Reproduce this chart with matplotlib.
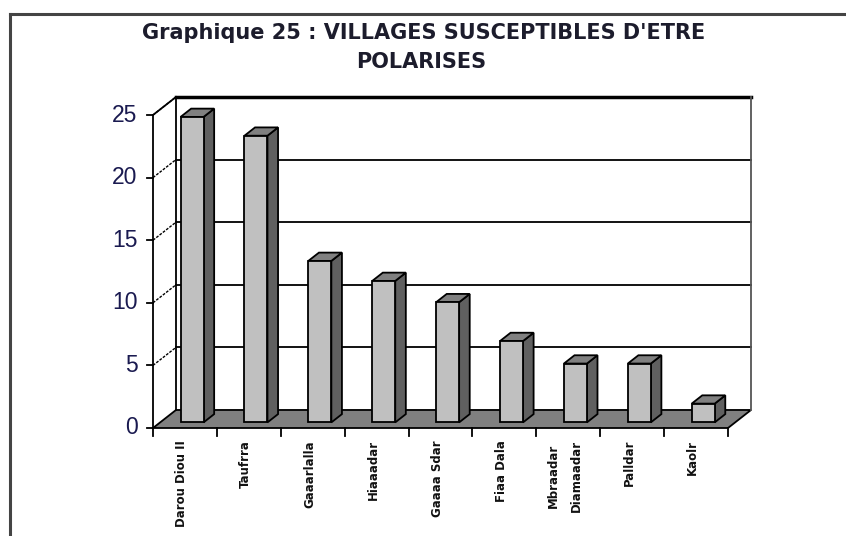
import matplotlib
matplotlib.use("Agg")
import matplotlib.pyplot as plt
from matplotlib.patches import Polygon
from matplotlib.lines import Line2D

# ---- data ----
villages = ["Darou Diou II", "Taufrra", "Gaaarlalla", "Hiaaadar", "Gaaaa Sdar",
            "Fiaa Dala", "Mbraadar\nDiamaadar", "Palldar", "Kaolr"]
values = [24.4, 22.9, 12.9, 11.3, 9.6, 6.5, 4.7, 4.7, 1.5]
yticks = [0, 5, 10, 15, 20, 25]
title_line1 = "Graphique 25 : VILLAGES SUSCEPTIBLES D'ETRE"
title_line2 = "POLARISES"

W, H, DPI = 846, 536, 100
fig = plt.figure(figsize=(W / DPI, H / DPI), dpi=DPI)
fig.patch.set_facecolor("white")

# axes placed in pixel coordinates
x0p, x1p, ytop, ybot = 153, 751, 98, 428
ax = fig.add_axes([x0p / W, 1 - ybot / H, (x1p - x0p) / W, (ybot - ytop) / H])

n = len(values)
DX, DY = 0.36, 1.44          # depth offset (data units)
ymax = 25
ax.set_xlim(-0.5, -0.5 + (x1p - x0p) / 63.89)
ax.set_ylim(0, (ybot - ytop) / 12.52)
ax.axis("off")

lw = 1.3
# floor
floor = Polygon([(-0.5, 0), (n - 0.5, 0), (n - 0.5 + DX, DY), (-0.5 + DX, DY)],
                closed=True, facecolor="#808080", edgecolor="black", lw=lw, clip_on=False, zorder=1)
ax.add_patch(floor)

# back wall grid lines
for v in yticks[1:]:
    ax.add_line(Line2D([-0.5 + DX, n - 0.5 + DX], [v + DY, v + DY], color="black", lw=1.3,
                       clip_on=False, zorder=1))
    ax.add_line(Line2D([-0.5, -0.5 + DX], [v, v + DY], color="black", lw=1.0, ls=(0, (2, 1)),
                       clip_on=False, zorder=1))
# top of back wall thick
ax.add_line(Line2D([-0.5 + DX, n - 0.5 + DX], [ymax + DY, ymax + DY], color="black", lw=2.5,
                   clip_on=False, zorder=2))
# wall edges
ax.add_line(Line2D([-0.5 + DX, -0.5 + DX], [DY, ymax + DY], color="black", lw=1.3, clip_on=False, zorder=2))
ax.add_line(Line2D([n - 0.5 + DX, n - 0.5 + DX], [DY, ymax + DY], color="#555555", lw=1.3, clip_on=False, zorder=2))
ax.add_line(Line2D([-0.5, -0.5], [0, ymax], color="black", lw=1.3, clip_on=False, zorder=2))
ax.add_line(Line2D([-0.5, -0.5 + DX], [ymax, ymax + DY], color="black", lw=1.3, clip_on=False, zorder=2))

# y ticks and labels
for v in yticks:
    ax.add_line(Line2D([-0.5 - 0.09, -0.5], [v, v], color="black", lw=1.3, clip_on=False, zorder=2))
    ax.text(-0.5 - 0.24, v, str(v), ha="right", va="center", fontsize=16.5,
            family="Liberation Sans", color="#1a1a50")

# x ticks
for i in range(n + 1):
    ax.add_line(Line2D([i - 0.5, i - 0.5], [0, -0.65], color="black", lw=1.3, clip_on=False, zorder=2))

# bars
f, b, w = 0.31, 0.46, 0.36
for i, v in enumerate(values):
    xl = i - w / 2 + f * DX
    xr = xl + w
    yb = f * DY
    ax.bar(xl, v, width=w, bottom=yb, align="edge", color="#C0C0C0", edgecolor="black",
           lw=lw, zorder=5, clip_on=False)
    side = Polygon([(xr, yb), (xr + b * DX, yb + b * DY), (xr + b * DX, yb + v + b * DY), (xr, yb + v)],
                   closed=True, facecolor="#606060", edgecolor="black", lw=lw, zorder=4, clip_on=False)
    top = Polygon([(xl, yb + v), (xr, yb + v), (xr + b * DX, yb + v + b * DY), (xl + b * DX, yb + v + b * DY)],
                  closed=True, facecolor="#808080", edgecolor="black", lw=lw, zorder=4, clip_on=False)
    ax.add_patch(side)
    ax.add_patch(top)
    ax.text(i - 0.05, -0.95, villages[i], rotation=90, ha="center", va="top", fontsize=8.5,
            fontweight="bold", family="DejaVu Sans", color="#111111", linespacing=2.0)

# title
fig.text(424 / W, 1 - 33 / H, title_line1, ha="center", va="center", fontsize=15, fontweight="bold",
         family="DejaVu Sans", color="#1c1c2c")
fig.text(421 / W, 1 - 62 / H, title_line2, ha="center", va="center", fontsize=15, fontweight="bold",
         family="DejaVu Sans", color="#1c1c2c")

# outer frame
fig.add_artist(Line2D([10 / W, 10 / W], [0, 1 - 14 / H], color="#444444", lw=2.2, transform=fig.transFigure))
fig.add_artist(Line2D([10 / W, 1], [1 - 14 / H, 1 - 14 / H], color="#444444", lw=2.2, transform=fig.transFigure))

fig.savefig("out.png", dpi=DPI)
